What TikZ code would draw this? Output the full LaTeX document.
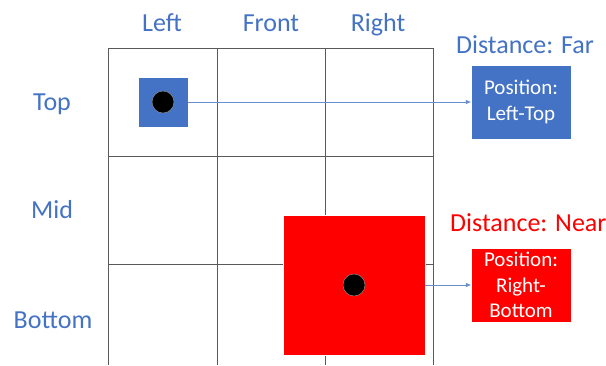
\documentclass[tikz,border=0pt]{standalone}
\usepackage{fontspec}
\setmainfont{Carlito}
\usetikzlibrary{arrows.meta}
\definecolor{oblue}{HTML}{4472C4}
\definecolor{ored}{HTML}{FF0000}
\begin{document}
\begin{tikzpicture}[x=1pt,y=-1pt,
  gridline/.style={draw=black!65,line width=0.9pt},
  lbl/.style={text=oblue,font=\fontsize{26}{30}\selectfont,inner sep=0pt,anchor=base},
  posbox/.style={draw=white,line width=0.4pt,text=white,align=center,font=\fontsize{21}{25.5}\selectfont,inner sep=0pt,minimum width=100pt},
  dot/.style={circle,fill=black,draw=black!40,line width=0.4pt,minimum size=22pt,inner sep=0pt},
  link/.style={draw=oblue!80,line width=0.6pt,-{Triangle[length=5pt,width=4pt]}}]
\useasboundingbox (0,0) rectangle (606,365);
% grid
\draw[gridline] (108,48) -- (433,48);
\draw[gridline] (108,156) -- (433,156);
\draw[gridline] (108,264) -- (433,264);
\foreach \x in {108,217,325,433} \draw[gridline] (\x,48) -- (\x,365);
% labels
\node[lbl] (cl) at (162,31) {Left};
\node[lbl] (cf) at (271,31) {Front};
\node[lbl] (cr) at (378,31) {Right};
\node[lbl] (rt) at (52,110) {Top};
\node[lbl] (rm) at (52,218) {Mid};
\node[lbl] (rb) at (53,328) {Bottom};
% blue object
\node[fill=oblue,draw=white,line width=0.4pt,minimum size=50pt,inner sep=0pt] (bsq) at (163,102) {};
\node[dot] (bdot) at (163,102) {};
\node[posbox,fill=oblue,minimum height=74pt] (bbox) at (521,102) {Position:\\Left-Top};
\node[lbl] (bdist) at (525,53) {Distance: Far};
\draw[link] (bsq.east) -- (bbox.west);
% red object
\node[fill=ored,draw=white,line width=0.4pt,minimum width=142pt,minimum height=140pt,inner sep=0pt] (rsq) at (354,285) {};
\node[dot] (rdot) at (354,285) {};
\node[posbox,fill=ored,minimum height=74pt] (rbox) at (521,285) {Position:\\Right-\\Bottom};
\node[lbl,text=ored,anchor=base west] (rdist) at (450,231) {Distance: Near};
\draw[link] (rsq.east) -- (rbox.west);
\end{tikzpicture}
\end{document}
